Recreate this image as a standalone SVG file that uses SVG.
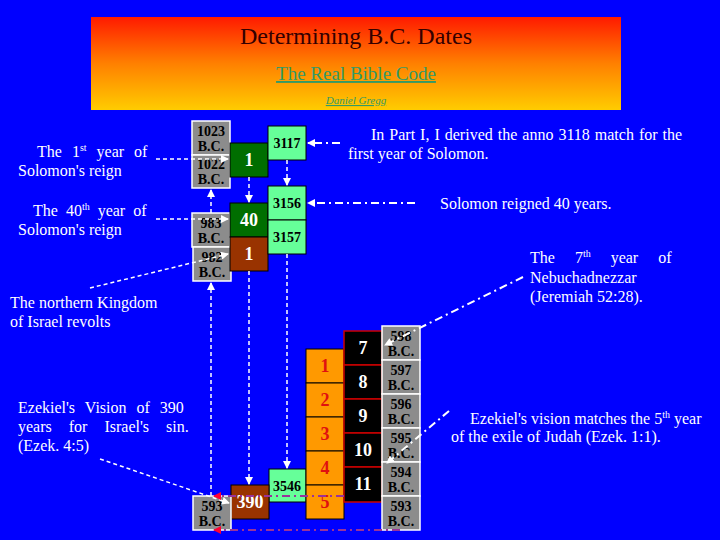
<svg xmlns="http://www.w3.org/2000/svg" width="720" height="540" viewBox="0 0 720 540">
<defs>
<linearGradient id="hdr" x1="0" y1="0" x2="0" y2="1"><stop offset="0" stop-color="#ff1a00"/><stop offset="0.5" stop-color="#ff8000"/><stop offset="1" stop-color="#ffcc00"/></linearGradient>
<marker id="aw" markerWidth="8" markerHeight="8" refX="7" refY="4" orient="auto" markerUnits="userSpaceOnUse"><path d="M0,0 L8,4 L0,8 z" fill="#fff"/></marker>
<marker id="ar" markerWidth="8" markerHeight="8" refX="7" refY="4" orient="auto" markerUnits="userSpaceOnUse"><path d="M0,0 L8,4 L0,8 z" fill="#ff0033"/></marker>
<style>
text{font-family:"Liberation Serif",serif}
.w{fill:#fff;font-size:16px}
.g rect{fill:#8c8c8c;stroke:#fff;stroke-width:1.5}
.g text{font-size:14px;font-weight:bold;text-anchor:middle;fill:#000}
.lg rect{fill:#66ff99;stroke:#000;stroke-width:1}
.lg text{font-size:14px;font-weight:bold;text-anchor:middle;fill:#000}
.dg rect{fill:#006e00;stroke:#000}
.br rect{fill:#993300;stroke:#000}
.wn{fill:#fff;font-size:18px;font-weight:bold;text-anchor:middle}
.or rect{fill:#ff9900;stroke:#000}
.or text{fill:#e01010;font-size:18px;font-weight:bold;text-anchor:middle}
.bk rect{fill:#000;stroke:#cc0000;stroke-width:1.5}
.bk text{fill:#fff;font-size:18px;font-weight:bold;text-anchor:middle}
.d{stroke:#fff;stroke-width:1.5;stroke-dasharray:4 3;fill:none}
.dd{stroke:#fff;stroke-width:2;stroke-dasharray:8 4 2 4;fill:none}
.pd{stroke:#993399;stroke-width:2;stroke-dasharray:8 4 2 4;fill:none}
</style>
</defs>
<rect width="720" height="540" fill="#0000ff"/>
<g id="header">
<rect x="91" y="17" width="530" height="93" fill="url(#hdr)"/>
<text x="356" y="44" text-anchor="middle" font-size="24" fill="#330000">Determining B.C. Dates</text>
<text x="356" y="80" text-anchor="middle" font-size="19" fill="#339966" text-decoration="underline">The Real Bible Code</text>
<text x="356" y="104" text-anchor="middle" font-size="11" font-style="italic" fill="#339966" text-decoration="underline">Daniel Gregg</text>
</g>
<g id="labels">
<text class="w" x="37" y="157" word-spacing="6">The 1<tspan font-size="10" dy="-6">st</tspan><tspan dy="6"> year of</tspan></text>
<text class="w" x="18" y="176">Solomon's reign</text>
<text class="w" x="33" y="216" word-spacing="4">The 40<tspan font-size="10" dy="-6">th</tspan><tspan dy="6"> year of</tspan></text>
<text class="w" x="18" y="235">Solomon's reign</text>
<text class="w" x="10" y="308">The northern Kingdom</text>
<text class="w" x="10" y="327">of Israel revolts</text>
<text class="w" x="18" y="413" word-spacing="6">Ezekiel's Vision of 390</text>
<text class="w" x="18" y="432" word-spacing="13">years for Israel's sin.</text>
<text class="w" x="18" y="451">(Ezek. 4:5)</text>
<text class="w" x="371" y="140" word-spacing="1">In Part I, I derived the anno 3118 match for the</text>
<text class="w" x="348" y="159">first year of Solomon.</text>
<text class="w" x="440" y="209">Solomon reigned 40 years.</text>
<text class="w" x="530" y="263" word-spacing="16">The 7<tspan font-size="10" dy="-6">th</tspan><tspan dy="6"> year of</tspan></text>
<text class="w" x="530" y="283">Nebuchadnezzar</text>
<text class="w" x="530" y="302">(Jeremiah 52:28).</text>
<text class="w" x="470" y="424">Ezekiel's vision matches the 5<tspan font-size="10" dy="-6">th</tspan><tspan dy="6"> year</tspan></text>
<text class="w" x="451" y="442">of the exile of Judah (Ezek. 1:1).</text>
</g>
<g id="n1023" class="g"><rect x="192" y="121" width="38" height="34"/><text x="211" y="136">1023</text><text x="211" y="151">B.C.</text></g>
<g id="n1022" class="g"><rect x="192" y="155" width="38" height="33"/><text x="211" y="169">1022</text><text x="211" y="184">B.C.</text></g>
<g id="n983" class="g"><rect x="192" y="213" width="38" height="34"/><text x="211" y="228">983</text><text x="211" y="243">B.C.</text></g>
<g id="n982" class="g"><rect x="193" y="247" width="38" height="34"/><text x="212" y="262">982</text><text x="212" y="277">B.C.</text></g>
<g id="y1a" class="dg"><rect x="230" y="143" width="38" height="34"/><text class="wn" x="249" y="166">1</text></g>
<g id="y40" class="dg"><rect x="230" y="203" width="38" height="34"/><text class="wn" x="249" y="226">40</text></g>
<g id="y1b" class="br"><rect x="230" y="237" width="38" height="34"/><text class="wn" x="249" y="260">1</text></g>
<g id="a3117" class="lg"><rect x="268" y="126" width="38" height="34"/><text x="287" y="148">3117</text></g>
<g id="a3156" class="lg"><rect x="268" y="186" width="38" height="34"/><text x="287" y="208">3156</text></g>
<g id="a3157" class="lg"><rect x="268" y="220" width="38" height="34"/><text x="287" y="242">3157</text></g>
<g id="a3546" class="lg"><rect x="269" y="469" width="37" height="33"/><text x="287" y="491">3546</text></g>
<g id="n390" class="br"><rect x="231" y="485" width="38" height="34"/><text class="wn" x="250" y="508">390</text></g>
<g id="n593l" class="g"><rect x="193" y="496" width="38" height="34"/><text x="212" y="511">593</text><text x="212" y="526">B.C.</text></g>
<g id="exile" class="or">
<rect x="306" y="349" width="38" height="34"/><text x="325" y="372">1</text>
<rect x="306" y="383" width="38" height="34"/><text x="325" y="406">2</text>
<rect x="306" y="417" width="38" height="34"/><text x="325" y="440">3</text>
<rect x="306" y="451" width="38" height="34"/><text x="325" y="474">4</text>
<rect x="306" y="485" width="38" height="34"/><text x="325" y="508">5</text>
</g>
<g id="nebu" class="bk">
<rect x="344" y="331" width="38" height="34"/><text x="363" y="354">7</text>
<rect x="344" y="365" width="38" height="34"/><text x="363" y="388">8</text>
<rect x="344" y="399" width="38" height="34"/><text x="363" y="422">9</text>
<rect x="344" y="433" width="38" height="34"/><text x="363" y="456">10</text>
<rect x="344" y="467" width="38" height="35"/><text x="363" y="490">11</text>
</g>
<g id="bcright" class="g">
<rect x="382" y="326" width="38" height="34"/><text x="401" y="341">598</text><text x="401" y="356">B.C.</text>
<rect x="382" y="360" width="38" height="34"/><text x="401" y="375">597</text><text x="401" y="390">B.C.</text>
<rect x="382" y="394" width="38" height="34"/><text x="401" y="409">596</text><text x="401" y="424">B.C.</text>
<rect x="382" y="428" width="38" height="34"/><text x="401" y="443">595</text><text x="401" y="458">B.C.</text>
<rect x="382" y="462" width="38" height="34"/><text x="401" y="477">594</text><text x="401" y="492">B.C.</text>
<rect x="382" y="496" width="38" height="34"/><text x="401" y="511">593</text><text x="401" y="526">B.C.</text>
</g>
<g id="connectors">
<path class="d" d="M156,159 H228" marker-end="url(#aw)"/>
<path class="d" d="M156,219 H228" marker-end="url(#aw)"/>
<path class="d" d="M90,288 L228,254" marker-end="url(#aw)"/>
<path class="d" d="M211,213 V190" marker-end="url(#aw)"/>
<path class="d" d="M211,496 V283" marker-end="url(#aw)"/>
<path class="d" d="M249,177 V202" marker-end="url(#aw)"/>
<path class="d" d="M287,160 V185" marker-end="url(#aw)"/>
<path class="d" d="M249,271 V484" marker-end="url(#aw)"/>
<path class="d" d="M287,254 V468" marker-end="url(#aw)"/>
<path class="d" d="M100,459 L229,503" marker-end="url(#aw)"/>
<path class="dd" d="M340,143 H308" marker-end="url(#aw)"/>
<path class="dd" d="M415,203 H308" marker-end="url(#aw)"/>
<path class="dd" d="M523,277 L385,345" marker-end="url(#aw)"/>
<path class="dd" d="M449,411 L387,463" marker-end="url(#aw)"/>
<path class="pd" stroke="#b05a20" d="M344,496 H214" marker-end="url(#ar)"/>
<path class="pd" d="M400,530 H214" marker-end="url(#ar)"/>
</g>
</svg>
